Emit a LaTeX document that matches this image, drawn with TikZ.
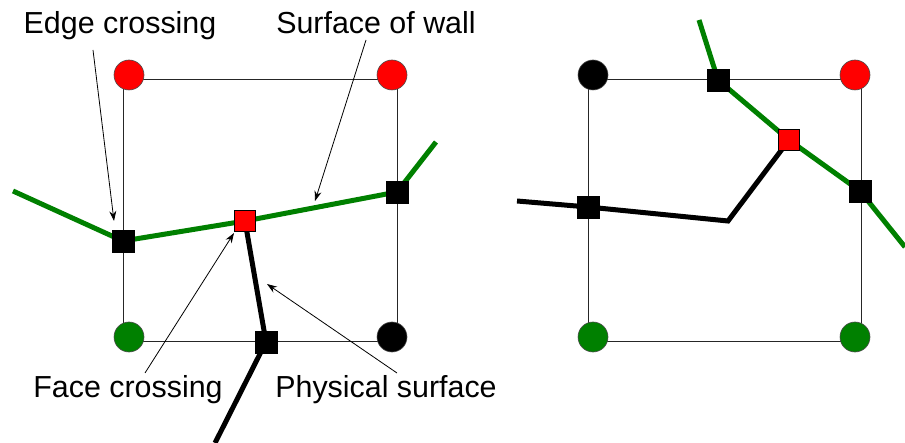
\documentclass[tikz,border=0pt]{standalone}
\usepackage{fontspec}
\setmainfont{Liberation Sans}
\usetikzlibrary{arrows.meta, backgrounds}
\definecolor{wallgreen}{RGB}{0,128,0}

\begin{document}
\begin{tikzpicture}[
    x=0.5pt, y=-0.5pt,
    vert/.style={circle, draw=black!70, line width=0.3pt, minimum size=15pt, inner sep=0pt},
    xing/.style={rectangle, draw=black, line width=0.4pt, minimum size=11pt, inner sep=0pt, fill=black},
    fxing/.style={xing, fill=red, minimum size=10.5pt},
    cell/.style={line width=0.5pt, draw=black!85},
    wall/.style={line width=2.5pt, draw=wallgreen},
    phys/.style={line width=2.5pt, draw=black},
    lbl/.style={font=\fontsize{15.2}{18}\selectfont, inner sep=0pt, anchor=base},
    ptr/.style={-{Stealth[length=5pt, width=3.5pt]}, line width=0.4pt},
]
    \useasboundingbox (0,0) rectangle (905,443);

    % left cell
    \draw[cell] (123,80) rectangle (397,342);
    \node[vert, fill=red] (lTL) at (129,75) {};
    \node[vert, fill=red] (lTR) at (392,75) {};
    \node[vert, fill=wallgreen] (lBL) at (129,337) {};
    \node[vert, fill=black] (lBR) at (392,337) {};

    \node[xing] (lW) at (123,241) {};
    \node[fxing] (lF) at (245,221) {};
    \node[xing] (lE) at (397,192) {};
    \node[xing] (lS) at (266,342) {};

    \coordinate (lwA) at (13,191);
    \coordinate (lwB) at (436,142);
    \coordinate (lpB) at (215,443);

    \begin{scope}[on background layer]
        \draw[wall] (lwA) -- (lW.center) -- (lF.center) -- (lE.center) -- (lwB);
        \draw[phys] (lF.center) -- (lS.center) -- (lpB);
    \end{scope}

    % right cell
    \draw[cell] (588,80) rectangle (861,342);
    \node[vert, fill=black] (rTL) at (593,75) {};
    \node[vert, fill=red] (rTR) at (855,75) {};
    \node[vert, fill=wallgreen] (rBL) at (593,337) {};
    \node[vert, fill=wallgreen] (rBR) at (855,337) {};

    \node[xing] (rN) at (718,80) {};
    \node[fxing] (rF) at (789,140) {};
    \node[xing] (rE) at (860,191) {};
    \node[xing] (rW) at (588,207) {};

    \coordinate (rwA) at (699,20);
    \coordinate (rwB) at (905,247);
    \coordinate (rpA) at (517,201);
    \coordinate (rpK) at (728,221);

    \begin{scope}[on background layer]
        \draw[wall] (rwA) -- (rN.center) -- (rF.center) -- (rE.center) -- (rwB);
        \draw[phys] (rpA) -- (rW.center) -- (rpK) -- (rF.center);
    \end{scope}

    % labels
    \node[lbl] (edge) at (120,34) {Edge crossing};
    \node[lbl] (surf) at (376,34) {Surface of wall};
    \node[lbl] (face) at (128,397) {Face crossing};
    \node[lbl] (physl) at (386,397) {Physical surface};

    \coordinate (edgeS) at (93,50);
    \coordinate (edgeT) at (114,221);
    \coordinate (surfS) at (366,40);
    \coordinate (surfT) at (315,201);
    \coordinate (faceS) at (145,373);
    \coordinate (faceT) at (234,233);
    \coordinate (physS) at (397,373);
    \coordinate (physT) at (267,284);

    \draw[ptr] (edgeS) -- (edgeT);
    \draw[ptr] (surfS) -- (surfT);
    \draw[ptr] (faceS) -- (faceT);
    \draw[ptr] (physS) -- (physT);
\end{tikzpicture}
\end{document}
